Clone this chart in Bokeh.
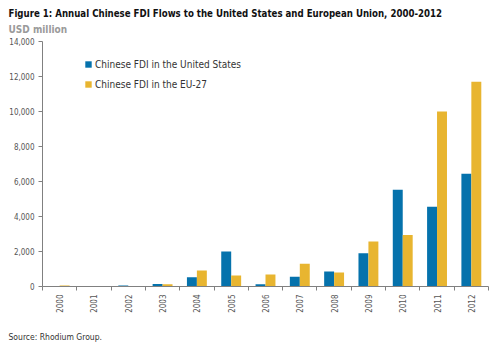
from bokeh.plotting import figure
from bokeh.models import (Legend, LegendItem, FixedTicker, Range1d, Title,
                          NumeralTickFormatter, ColumnDataSource)
from bokeh.transform import dodge
from bokeh.embed import file_html
from bokeh.resources import INLINE
import math

years = ["2000", "2001", "2002", "2003", "2004", "2005", "2006",
         "2007", "2008", "2009", "2010", "2011", "2012"]
us_fdi = [10, 20, 60, 150, 530, 2000, 130, 560, 860, 1900, 5530, 4560, 6440]
eu_fdi = [60, 20, 0, 130, 910, 630, 690, 1300, 800, 2570, 2950, 10000, 11700]
y_ticks = [0, 2000, 4000, 6000, 8000, 10000, 12000, 14000]

title_text = "Figure 1: Annual Chinese FDI Flows to the United States and European Union, 2000-2012"
subtitle_text = "USD million"
source_text = "Source: Rhodium Group."
us_label = "Chinese FDI in the United States"
eu_label = "Chinese FDI in the EU-27"

BLUE = "#0572AC"
GOLD = "#E8B530"
FONT = "DejaVu Sans Condensed"

W, H = 500, 355
FL, FR, FT, FB = 42, 488, 41, 287

n = len(years)
centers = [i + 0.5 for i in range(n)]
bounds = [float(i) for i in range(n + 1)]

src = ColumnDataSource(dict(x=centers, us=us_fdi, eu=eu_fdi))

p = figure(width=W, height=H, output_backend="svg", toolbar_location=None,
           title=None,
           x_range=Range1d(0, n), y_range=Range1d(0, 14000),
           min_border_left=FL, min_border_right=W - FR,
           min_border_top=FT, min_border_bottom=H - FB)
p.outline_line_color = None
p.grid.visible = False
p.background_fill_color = "white"
p.border_fill_color = "white"

r_us = p.vbar(x=dodge("x", -0.145), top="us", width=0.29, source=src,
              fill_color=BLUE, line_color=None)
r_eu = p.vbar(x=dodge("x", 0.145), top="eu", width=0.29, source=src,
              fill_color=GOLD, line_color=None)

# x axis
xa = p.xaxis[0]
xa.ticker = FixedTicker(ticks=centers, minor_ticks=bounds)
xa.major_label_overrides = {c: y for c, y in zip(centers, years)}
xa.major_tick_out = 0
xa.major_tick_in = 0
xa.minor_tick_out = 4
xa.minor_tick_in = 0
xa.axis_line_color = "#808080"
xa.minor_tick_line_color = "#808080"
xa.major_label_orientation = math.pi / 2
xa.major_label_text_font = FONT
xa.major_label_text_font_size = "8px"
xa.major_label_text_color = "#555555"
xa.major_label_standoff = 4

# y axis
ya = p.yaxis[0]
ya.ticker = FixedTicker(ticks=y_ticks)
ya.formatter = NumeralTickFormatter(format="0,0")
ya.major_tick_out = 4
ya.major_tick_in = 0
ya.minor_tick_out = 0
ya.minor_tick_in = 0
ya.axis_line_color = "#808080"
ya.major_tick_line_color = "#808080"
ya.major_label_text_font = FONT
ya.major_label_text_font_size = "8px"
ya.major_label_text_color = "#555555"
ya.major_label_standoff = 4

legend = Legend(items=[LegendItem(label=us_label, renderers=[r_us]),
                       LegendItem(label=eu_label, renderers=[r_eu])],
                location=(42, 196), orientation="vertical",
                background_fill_alpha=0, border_line_color=None,
                padding=0, margin=0, spacing=8,
                glyph_width=8, glyph_height=8, label_standoff=3,
                label_height=12,
                label_text_font=FONT, label_text_font_size="10px",
                label_text_color="#333333")
p.add_layout(legend)

# titles: first added sits nearest the frame
p.add_layout(Title(text=subtitle_text, align="left", offset=-34, standoff=13,
                   text_font=FONT, text_font_size="10px",
                   text_font_style="bold", text_color="#9a9a9a"), "above")
p.add_layout(Title(text=title_text, align="left", offset=-34, standoff=-6,
                   text_font=FONT, text_font_size="9.6px",
                   text_font_style="bold", text_color="#111111"), "above")
p.add_layout(Title(text=source_text, align="left", offset=-34, standoff=28,
                   text_font=FONT, text_font_size="8.5px",
                   text_font_style="normal", text_color="#333333"), "below")

open("out.html", "w").write(file_html(p, INLINE))
